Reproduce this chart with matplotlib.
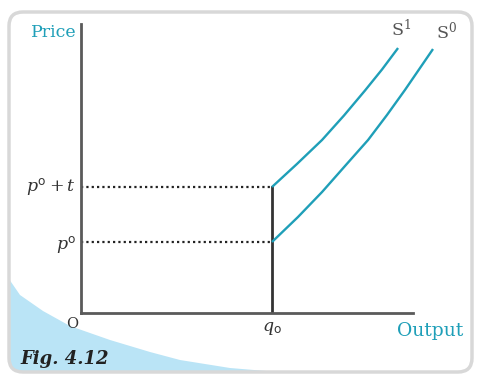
import numpy as np
import matplotlib
matplotlib.use("Agg")
import matplotlib.pyplot as plt
from matplotlib.patches import FancyBboxPatch, Polygon

plt.rcParams["mathtext.fontset"] = "dejavuserif"

# supply curves (output, price) -- S0 before tax, S1 after tax
s0_q = [1.000, 1.136, 1.262, 1.387, 1.503, 1.602, 1.696, 1.775, 1.843]
s0_p = [1.000, 1.352, 1.704, 2.085, 2.437, 2.789, 3.141, 3.451, 3.718]
s1_q = [1.000, 1.131, 1.262, 1.377, 1.487, 1.576, 1.660]
s1_p = [1.775, 2.100, 2.437, 2.782, 3.134, 3.430, 3.732]

q0 = 1.0
p0 = 1.0
p0_t = 1.775

teal = "#1f9fb8"
axis_col = "#5a5a5a"

fig = plt.figure(figsize=(4.78, 3.77), dpi=100)

# background: rounded panel and light-blue swoosh, in pixel coordinates
bg = fig.add_axes([0, 0, 1, 1], zorder=0)
bg.set_xlim(0, 478)
bg.set_ylim(377, 0)
bg.axis("off")
panel = FancyBboxPatch((9, 12), 463, 360, boxstyle="round,pad=0,rounding_size=14",
                       fc="white", ec="none")
bg.add_patch(panel)
swoosh_x = [9, 9, 20, 43, 70, 110, 150, 180, 230, 290, 330, 330]
swoosh_y = [376, 279, 295, 311, 326, 340, 352, 360, 368, 373, 375, 376]
blue = Polygon(np.column_stack([swoosh_x, swoosh_y]), closed=True,
               fc="#bae4f6", ec="none")
bg.add_patch(blue)
blue.set_clip_path(panel)
bg.add_patch(FancyBboxPatch((9, 12), 463, 360, boxstyle="round,pad=0,rounding_size=14",
                            fc="none", ec="#d8d8d8", lw=2.5))

bg.text(31, 37, "Price", color=teal, fontsize=12.5, family="DejaVu Serif")
bg.text(463, 336, "Output", color=teal, fontsize=13.5, family="DejaVu Serif", ha="right")
bg.text(72, 328, "O", color="#333333", fontsize=10.5, family="DejaVu Serif", ha="center")
bg.text(20, 364, "Fig. 4.12", color="#222222", fontsize=13, family="DejaVu Serif",
        weight="bold", style="italic")

# chart axes
ax = fig.add_axes([81 / 478, (377 - 313) / 377, (413 - 81) / 478, (313 - 24) / 377], zorder=1)
ax.patch.set_alpha(0)
ax.set_xlim(0, (413 - 81) / 191)
ax.set_ylim(0, (313 - 24) / 71)
for side in ["top", "right"]:
    ax.spines[side].set_visible(False)
for side in ["left", "bottom"]:
    ax.spines[side].set_color(axis_col)
    ax.spines[side].set_linewidth(2)
ax.set_xticks([])
ax.set_yticks([])

ax.plot([0, q0], [p0_t, p0_t], color="#222222", lw=1.6, ls=(0, (1, 1.4)))
ax.plot([0, q0], [p0, p0], color="#222222", lw=1.6, ls=(0, (1, 1.4)))
ax.plot([q0, q0], [0, p0_t], color="#333333", lw=2)

ax.plot(s0_q, s0_p, color=teal, lw=1.7, clip_on=False, solid_capstyle="butt",
        solid_joinstyle="round")
ax.plot(s1_q, s1_p, color=teal, lw=1.7, clip_on=False, solid_capstyle="butt",
        solid_joinstyle="round")

ax.text(1.675, 3.90, r"S$^{\mathregular{1}}$", fontsize=12.5, family="DejaVu Serif",
        color="#555555", ha="center")
ax.text(1.915, 3.87, r"S$^{\mathregular{0}}$", fontsize=12.5, family="DejaVu Serif",
        color="#555555", ha="center")

ax.text(-0.025, p0_t, r"$p^{\mathregular{o}} + t$", fontsize=12.5, ha="right", va="center",
        color="#333333")
ax.text(-0.025, p0 - 0.05, r"$p^{\mathregular{o}}$", fontsize=12.5, ha="right", va="center",
        color="#333333")
ax.text(q0, -0.08, r"$q_{\mathregular{o}}$", fontsize=12.5, ha="center", va="top",
        color="#333333")

fig.savefig("out.png", dpi=100)
